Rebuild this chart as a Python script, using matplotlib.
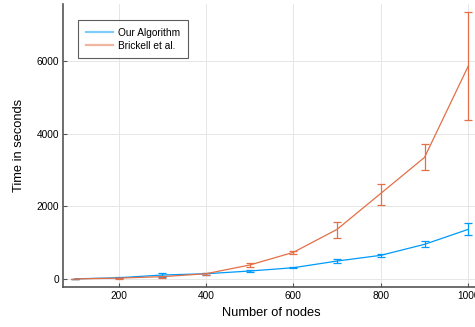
import numpy as np
import matplotlib
matplotlib.use("Agg")
import matplotlib.pyplot as plt
from matplotlib.lines import Line2D

plt.rcParams['font.family'] = ['Liberation Sans', 'DejaVu Sans']

# data
nodes = [100, 200, 300, 400, 500, 600, 700, 800, 900, 1000]

ours_mean = [5, 35, 110, 145, 220, 311, 495, 652, 955, 1367]
ours_low = [0, 20, 50, 120, 190, 290, 435, 600, 870, 1200]
ours_high = [10, 50, 175, 170, 250, 330, 560, 700, 1037, 1550]

brick_mean = [3, 25, 65, 145, 385, 734, 1367, 2357, 3348, 5860]
brick_low = [0, 10, 40, 120, 340, 690, 1140, 2045, 3007, 4374]
brick_high = [6, 40, 90, 170, 440, 780, 1580, 2605, 3722, 7355]

series = [
    ("Our Algorithm", ours_mean, ours_low, ours_high, "#009afa"),
    ("Brickell et al.", brick_mean, brick_low, brick_high, "#e36f47"),
]

fig = plt.figure(figsize=(4.75, 3.27), dpi=100)
ax = fig.add_axes([0.1326, 0.1223, 0.878, 0.8654])

handles = []
for label, mean, low, high, col in series:
    mean = np.array(mean)
    yerr = [mean - np.array(low), np.array(high) - mean]
    line, caps, bars = ax.errorbar(nodes, mean, yerr=yerr, color=col, lw=0.9,
                                   elinewidth=0.9, capsize=3, capthick=0.9)
    for c in caps:
        c.set_color("#222222")
    handles.append(Line2D([], [], color=col, lw=1.6, alpha=0.5, label=label))

ax.set_xlim(73, 1027)
ax.set_ylim(-220, 7570)
ax.set_xticks([200, 400, 600, 800, 1000])
ax.set_yticks([0, 2000, 4000, 6000])
ax.grid(True, color="#e6e6e6", lw=0.7)
ax.set_axisbelow(True)

for s in ("top", "right"):
    ax.spines[s].set_visible(False)
for s in ("left", "bottom"):
    ax.spines[s].set_color("#555555")
    ax.spines[s].set_linewidth(1.2)
ax.tick_params(direction="in", length=3, width=0.8, color="#555555",
               labelsize=7.3, pad=3)

ax.set_xlabel("Number of nodes", fontsize=9.3, labelpad=4)
ax.set_ylabel("Time in seconds", fontsize=9.3, labelpad=8)

leg = ax.legend(handles=handles, loc="upper left", fontsize=7.3, frameon=True,
                fancybox=False, edgecolor="#333333",
                bbox_to_anchor=(15 / 417, 1 - 16 / 283), borderaxespad=0,
                handlelength=2.7, handletextpad=0.5, borderpad=0.75,
                labelspacing=0.3)
leg.get_frame().set_linewidth(0.8)

fig.savefig("out.png", dpi=100)
